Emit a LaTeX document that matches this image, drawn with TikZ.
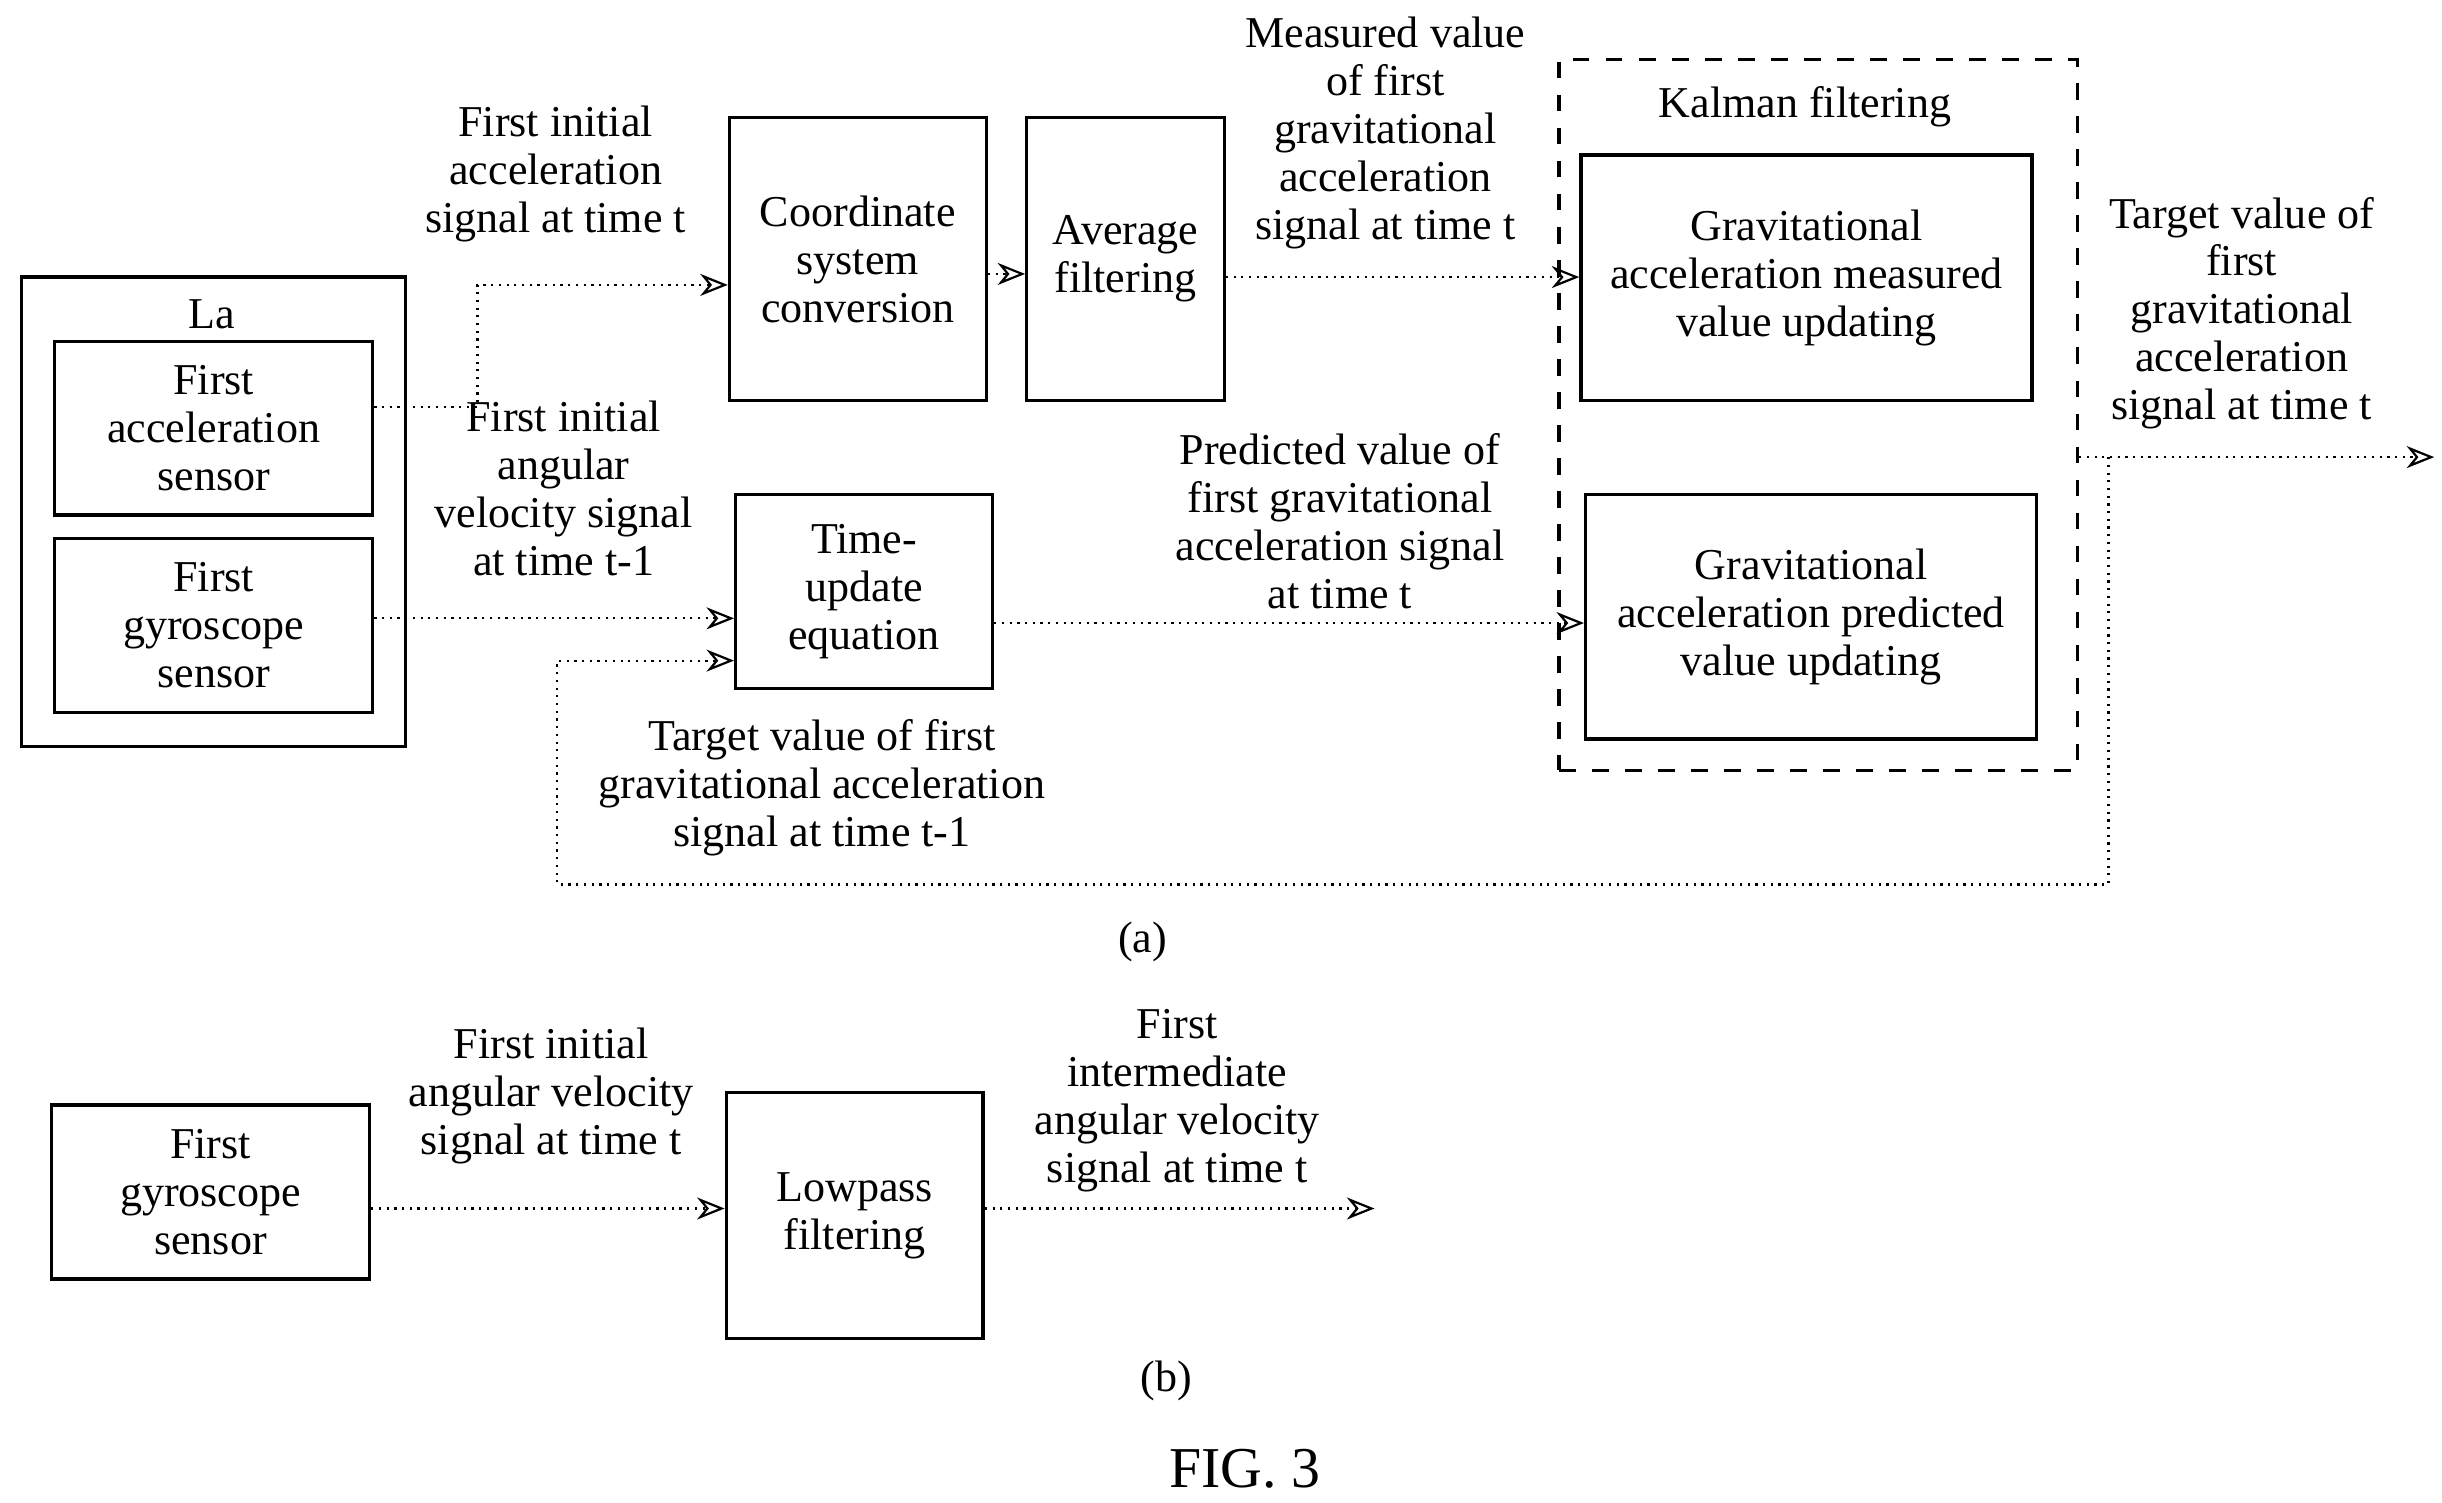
\documentclass[tikz,border=0pt]{standalone}
\usepackage{fontspec}
\setmainfont{Liberation Serif}
\usetikzlibrary{arrows.meta}
\begin{document}
\begin{tikzpicture}[
    x=0.01cm, y=-0.01cm,
    font=\fontsize{8}{8.7}\selectfont,
    box/.style={rectangle,draw,semithick,align=center,inner sep=0pt},
    lbl/.style={align=center,inner sep=0pt},
    flow/.style={densely dotted,-{Stealth[length=5pt,width=4pt,open]}}
]
    \useasboundingbox (0,0) rectangle (1560,960);
    % Part (a) - sensors
    \begin{scope}
        \node[box,minimum width=2.45cm,minimum height=3.0cm] (la) at (136.5,327) {};
        \node[lbl] (lat) at (135,201) {La};
        \node[box,minimum width=2.03cm,minimum height=1.11cm] (acc) at (136.5,273.5) {First\\acceleration\\sensor};
        \node[box,minimum width=2.03cm,minimum height=1.11cm] (gyr) at (136.5,399.5) {First\\gyroscope\\sensor};
    \end{scope}
    % Part (a) - processing blocks
    \node[box,minimum width=1.64cm,minimum height=1.81cm] (coord) at (548,165.5) {Coordinate\\system\\conversion};
    \node[box,minimum width=1.26cm,minimum height=1.81cm] (avg) at (719,165.5) {Average\\filtering};
    \node[box,minimum width=1.64cm,minimum height=1.24cm] (tue) at (552,378) {Time-\\update\\equation};
    % Kalman filtering
    \node[box,dashed,minimum width=3.31cm,minimum height=4.54cm] (kal) at (1161.5,265) {};
    \node[lbl] (kalt) at (1153,68) {Kalman filtering};
    \node[box,minimum width=2.88cm,minimum height=1.57cm] (meas) at (1154,177.5) {Gravitational\\acceleration measured\\value updating};
    \node[box,minimum width=2.88cm,minimum height=1.56cm] (pred) at (1157,394) {Gravitational\\acceleration predicted\\value updating};
    \coordinate (out) at (1555,292);
    \coordinate (fb1) at (1347,292);
    \coordinate (fb2) at (1347,565);
    \coordinate (fb3) at (356,565);
    \coordinate (fb4) at (356,422);
    % Connectors (a)
    \draw[flow] (acc.east |- 0,260) -- (305,260) |- (coord.west |- 0,182);
    \draw[flow] (coord.east |- 0,175) -- (avg.west |- 0,175);
    \draw[flow] (avg.east |- 0,177) -- (meas.west |- 0,177);
    \draw[flow] (gyr.east |- 0,395) -- (tue.west |- 0,395);
    \draw[flow] (tue.east |- 0,398) -- (pred.west |- 0,398);
    \draw[flow] (kal.east |- out) -- (out);
    \draw[flow] (fb1) -- (fb2) -- (fb3) -- (fb4) -- (tue.west |- fb4);
    % Labels (a)
    \node[lbl] (l1) at (355,111) {First initial\\acceleration\\signal at time t};
    \node[lbl] (l2) at (885,85) {Measured value\\of first\\gravitational\\acceleration\\signal at time t};
    \node[lbl] (l3) at (1432,200) {Target value of\\first\\gravitational\\acceleration\\signal at time t};
    \node[lbl] (l4) at (360,312) {First initial\\angular\\velocity signal\\at time t-1};
    \node[lbl] (l5) at (856,333) {Predicted value of\\first gravitational\\acceleration signal\\at time t};
    \node[lbl] (l6) at (525,503) {Target value of first\\gravitational acceleration\\signal at time t-1};
    \node[lbl] (capa) at (730,602) {(a)};
    % Part (b)
    \node[box,minimum width=2.03cm,minimum height=1.11cm] (gyrb) at (134.5,761.5) {First\\gyroscope\\sensor};
    \node[box,minimum width=1.64cm,minimum height=1.57cm] (lpf) at (546,776.5) {Lowpass\\filtering};
    \coordinate (outb) at (878,772);
    \draw[flow] (gyrb.east |- outb) -- (lpf.west |- outb);
    \draw[flow] (lpf.east |- outb) -- (outb);
    \node[lbl] (l7) at (352,700) {First initial\\angular velocity\\signal at time t};
    \node[lbl] (l8) at (752,703) {First\\intermediate\\angular velocity\\signal at time t};
    \node[lbl] (capb) at (745,882) {(b)};
    \node[lbl,font=\fontsize{10.5}{12}\selectfont] (fig) at (795,938) {FIG. 3};
\end{tikzpicture}
\end{document}
